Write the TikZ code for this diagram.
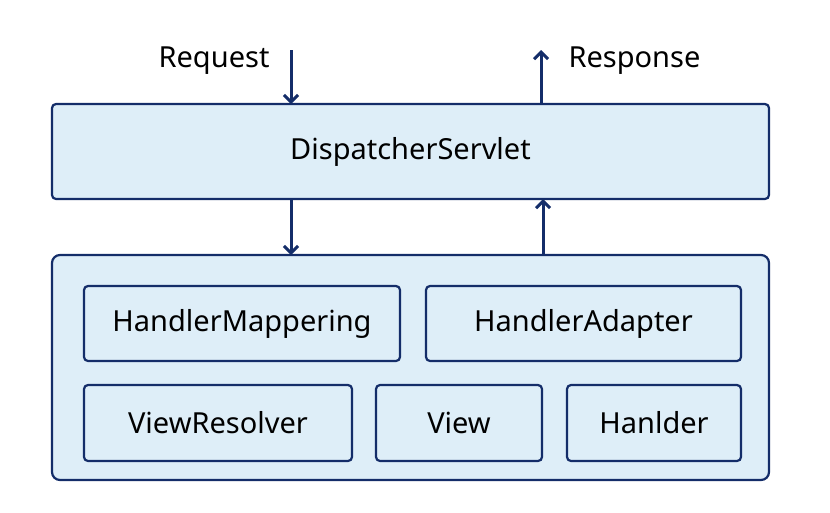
\documentclass[tikz,border=0pt]{standalone}
\usepackage{fontspec}
\setmainfont{Noto Sans}
\usetikzlibrary{arrows.meta,positioning}
\definecolor{navy}{RGB}{20,45,105}
\definecolor{paleblue}{RGB}{222,238,248}

\begin{document}
\begin{tikzpicture}[x=1pt, y=-1pt,
			every node/.style={font=\fontsize{29}{34}\selectfont},
			boxstep/.style={rectangle, draw=navy, line width=2.2pt, fill=paleblue, rounded corners=4pt, inner sep=0pt, outer sep=0pt},
			arrow/.style={draw=navy, line width=3pt, -{Straight Barb[length=7pt, width=14pt]}}
		]
		\useasboundingbox (0,0) rectangle (830,512);

		\node (servlet) [boxstep, minimum width=717pt, minimum height=95pt] at (410.5,151.5) {DispatcherServlet};
		\node (core) [boxstep, rounded corners=8pt, minimum width=717pt, minimum height=225pt] at (410.5,367.5) {};

		\node (mapping)  [boxstep, minimum width=316pt, minimum height=75pt] at (242,323.5) {HandlerMappering};
		\node (adapter)  [boxstep, minimum width=315pt, minimum height=75pt] at (583.5,323.5) {HandlerAdapter};
		\node (resolver) [boxstep, minimum width=268pt, minimum height=76pt] at (218,423) {ViewResolver};
		\node (view)     [boxstep, minimum width=166pt, minimum height=76pt] at (459,423) {View};
		\node (handler)  [boxstep, minimum width=174pt, minimum height=76pt] at (654,423) {Hanlder};

		\coordinate (reqtop) at (291,50);
		\coordinate (resptop) at (541,50);
		\node (request)  [anchor=base east] at (273,67) {Request};
		\node (response) [anchor=base west] at (565,67) {Response};

		\draw [arrow] (reqtop) -- (reqtop |- servlet.north);
		\draw [arrow] (resptop |- servlet.north) -- (resptop);
		\draw [arrow] (servlet.south -| reqtop) -- (core.north -| reqtop);
		\draw [arrow] ([xshift=2pt]core.north -| resptop) -- ([xshift=2pt]servlet.south -| resptop);

	\end{tikzpicture}
\end{document}
